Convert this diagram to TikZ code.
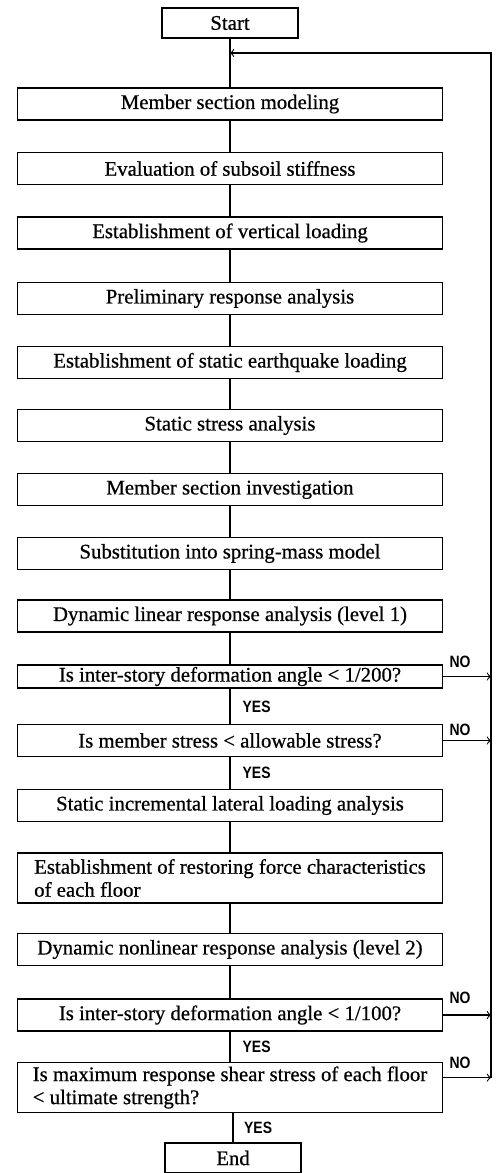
\documentclass[tikz,border=0pt]{standalone}
\usepackage{fontspec}
\setmainfont{Liberation Serif}[FakeBold=0.6]
\newfontfamily\tagfont{Liberation Sans}[FakeStretch=0.85]
\usetikzlibrary{calc,positioning,arrows}

\begin{document}
\begin{tikzpicture}[x=0.5pt,y=-0.5pt,inner sep=0.4mm,
  stepbox/.style={draw,line width=0.95pt,minimum width=212.5pt,minimum height=16pt,
    font=\fontsize{10.4}{11.5}\selectfont},
  twobox/.style={stepbox,align=left,minimum height=25pt},
  endbox/.style={stepbox,minimum width=68pt,minimum height=15pt},
  link/.style={line width=0.55pt},
  yes/.style={font=\tagfont\bfseries\fontsize{8.2}{9}\selectfont},
  no/.style={font=\tagfont\bfseries\fontsize{8.2}{9}\selectfont}]
\useasboundingbox (0,0) rectangle (495,1173);

\node[endbox] (start) at (230,23) {Start};
\node[stepbox] (model) at (230,104) {Member section modeling};
\node[stepbox] (subsoil) at (230,168.5) {Evaluation of subsoil stiffness};
\node[stepbox] (vload) at (230,233) {Establishment of vertical loading};
\node[stepbox] (prelim) at (230,298.5) {Preliminary response analysis};
\node[stepbox] (eqload) at (230,362.5) {Establishment of static earthquake loading};
\node[stepbox] (stress) at (230,425.5) {Static stress analysis};
\node[stepbox] (invest) at (230,489.5) {Member section investigation};
\node[stepbox] (spring) at (230,553.5) {Substitution into spring-mass model};
\node[stepbox] (dynlin) at (230,616) {Dynamic linear response analysis (level 1)};
\node[stepbox,minimum height=11.5pt] (angA) at (230,676.5) {Is inter-story deformation angle < 1/200?};
\node[stepbox] (memstr) at (230,740.5) {Is member stress < allowable stress?};
\node[stepbox] (incr) at (230,805.5) {Static incremental lateral loading analysis};
\node[twobox] (restor) at (230,878) {Establishment of restoring force characteristics\\of each floor};
\node[stepbox] (dynnl) at (230,949.5) {Dynamic nonlinear response analysis (level 2)};
\node[stepbox] (angB) at (230,1015) {Is inter-story deformation angle < 1/100?};
\node[twobox] (shear) at (230,1087.5) {Is maximum response shear stress of each floor\\< ultimate strength?};
\node[endbox] (stop) at (233,1158) {End};

% main line
\foreach \a/\b in {start/model,model/subsoil,subsoil/vload,vload/prelim,prelim/eqload,
  eqload/stress,stress/invest,invest/spring,spring/dynlin,dynlin/angA,angA/memstr,
  memstr/incr,incr/restor,restor/dynnl,dynnl/angB,angB/shear}
  \draw[link] (\a) -- (\b);
\draw[link] (shear.south -| stop) -- (stop);

% YES labels
\node[yes] at ($(angA.south)!0.5!(memstr.north)$) [right=5pt] {YES};
\node[yes] at ($(memstr.south)!0.5!(incr.north)$) [right=5pt] {YES};
\node[yes] at ($(angB.south)!0.5!(shear.north)$) [right=5pt] {YES};
\node[yes] at ($(shear.south)!0.5!(stop.north)$) [right=5pt] {YES};

% return line
\coordinate (top) at (491,53);
\coordinate (join) at (230,53);
\coordinate (s1) at ($(shear.north east)!0.31!(shear.south east)$);
\draw[link,->] (s1 -| top) -- (top) -- (join);
\draw[link,->] (angA.east) -- (angA.east -| top);
\draw[link,->] (memstr.east) -- (memstr.east -| top);
\draw[link,->] (angB.east) -- (angB.east -| top);
\draw[link,->] (s1) -- (s1 -| top);

% NO labels
\node[no] at (460,662) {NO};
\node[no] at (460,730) {NO};
\node[no] at (460,998) {NO};
\node[no] at (460,1063) {NO};
\end{tikzpicture}
\end{document}
